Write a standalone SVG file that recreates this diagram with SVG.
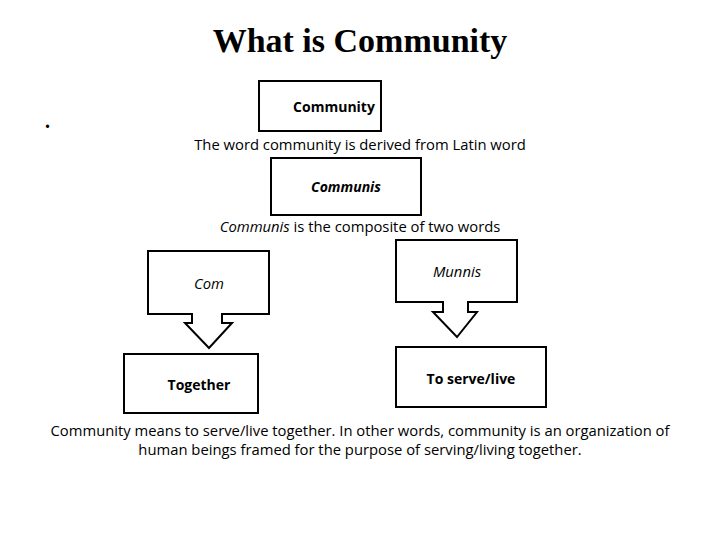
<svg xmlns="http://www.w3.org/2000/svg" width="720" height="540" viewBox="0 0 720 540">
<style>
.b{fill:#fff;stroke:#000;stroke-width:2}
.t{font-family:"Open Sans","Noto Sans",sans-serif;font-size:14.8px;fill:#000;text-anchor:middle}
.bd{font-weight:bold;font-size:14px}
.i{font-style:italic}
</style>
<rect width="720" height="540" fill="#fff"/>
<text x="360" y="52" text-anchor="middle" font-family="Liberation Serif,serif" font-weight="bold" font-size="34">What is Community</text>
<text x="45" y="128" font-family="Liberation Serif,serif" font-weight="bold" font-size="20">.</text>
<text class="t" x="360" y="150">The word community is derived from Latin word</text>
<text class="t" x="360" y="232"><tspan class="i">Communis</tspan> is the composite of two words</text>
<g id="community"><rect class="b" x="259" y="81" width="122" height="50"/><text class="t bd" x="334" y="112">Community</text></g>
<g id="communis"><rect class="b" x="271" y="158" width="150" height="57"/><text class="t bd i" x="346" y="192">Communis</text></g>
<g id="com"><path class="b" d="M148,251 H269 V314 H222 V323 H232 L209,348 L185,323 H192 V314 H148 Z"/><text class="t i" x="209" y="289">Com</text></g>
<g id="munnis"><path class="b" d="M396,240 H517 V302 H468 V312 H477 L457,337 L433,312 H443 V302 H396 Z"/><text class="t i" x="457" y="277">Munnis</text></g>
<g id="together"><rect class="b" x="124" y="354" width="134" height="59"/><text class="t bd" x="199" y="390">Together</text></g>
<g id="serve"><rect class="b" x="396" y="347" width="150" height="60"/><text class="t bd" x="471" y="384">To serve/live</text></g>
<g id="connectors"></g>
<text class="t" x="360" y="436">Community means to serve/live together. In other words, community is an organization of</text>
<text class="t" x="360" y="455">human beings framed for the purpose of serving/living together.</text>
</svg>
